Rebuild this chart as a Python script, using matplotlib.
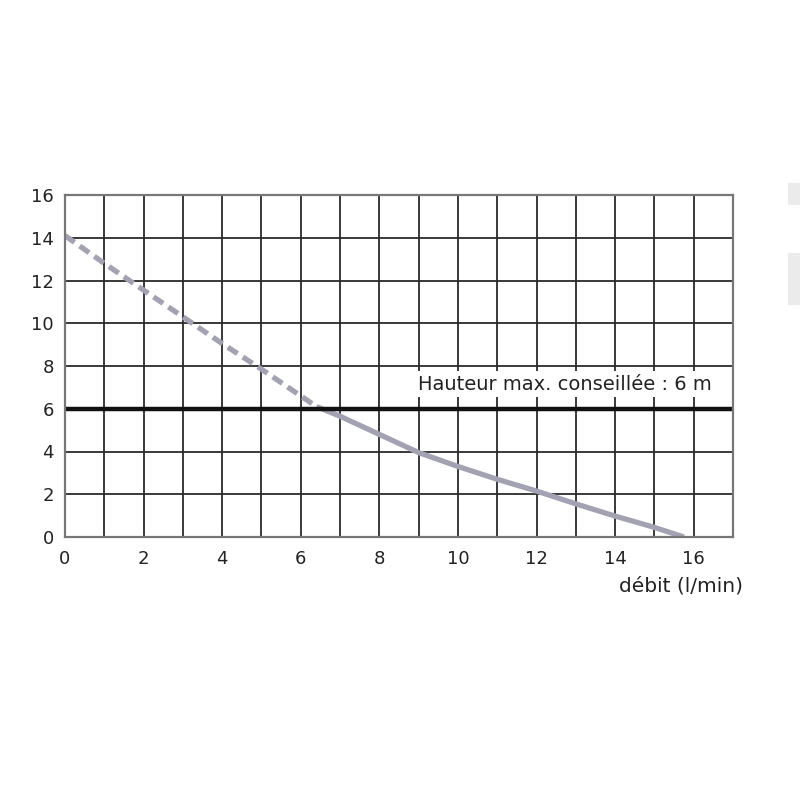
import matplotlib
matplotlib.use("Agg")
import matplotlib.pyplot as plt
from matplotlib.patches import Rectangle

# Data
x_dashed = [0, 1, 2, 3, 4, 5, 6, 6.4]
y_dashed = [14.1, 12.8, 11.55, 10.3, 9.05, 7.85, 6.6, 6.1]
x_solid = [6.4, 7, 8, 9, 10, 11, 12, 13, 14, 15, 15.75]
y_solid = [6.1, 5.65, 4.8, 3.95, 3.3, 2.7, 2.15, 1.55, 0.98, 0.45, 0.0]
max_height = 6
x_ticks = [0, 2, 4, 6, 8, 10, 12, 14, 16]
y_ticks = [0, 2, 4, 6, 8, 10, 12, 14, 16]
label_text = "Hauteur max. conseillée : 6 m"
x_label = "débit (l/min)"

plt.rcParams['font.family'] = ['DejaVu Sans']

fig = plt.figure(figsize=(8, 8), dpi=100)
ax = fig.add_axes([65/800, 1-537/800, (733-65)/800, (537-195)/800])
ax.set_xlim(0, 17)
ax.set_ylim(0, 16)

# grid
for gx in range(0, 18):
    ax.axvline(gx, color='#2a2a2a', lw=1.3, zorder=1)
for gy in range(0, 17, 2):
    ax.axhline(gy, color='#2a2a2a', lw=1.3, zorder=1)

ax.plot(x_dashed, y_dashed, color='#a3a2b3', lw=3.8, ls=(0, (2.2, 1.2)), zorder=3,
        solid_capstyle='butt', dash_capstyle='butt')
ax.plot(x_solid, y_solid, color='#a3a2b3', lw=3.8, zorder=3, solid_capstyle='butt',
        solid_joinstyle='round')
ax.axhline(max_height, color='#111111', lw=3.2, zorder=4)

ax.text(16.47, 7.15, label_text, ha='right', va='center', fontsize=14, color='#222222',
        zorder=5, bbox=dict(facecolor='white', edgecolor='none', pad=2.5))

ax.set_xticks(x_ticks)
ax.set_yticks(y_ticks)
ax.tick_params(length=0, labelsize=13, colors='#222222')
ax.tick_params(axis='x', pad=9)
ax.tick_params(axis='y', pad=8)
for s in ax.spines.values():
    s.set_color('#777777')
    s.set_linewidth(1.6)
    s.set_zorder(6)

fig.text(743/800, 1-586/800, x_label, ha='right', va='center', fontsize=14.5, color='#222222')

# light gray blocks at the right edge
fig.patches.append(Rectangle((788/800, 1-205/800), 12/800, 22/800, transform=fig.transFigure,
                             facecolor='#ebebeb', edgecolor='none'))
fig.patches.append(Rectangle((788/800, 1-305/800), 12/800, 52/800, transform=fig.transFigure,
                             facecolor='#ebebeb', edgecolor='none'))

fig.savefig("out.png", dpi=100, facecolor='white')
